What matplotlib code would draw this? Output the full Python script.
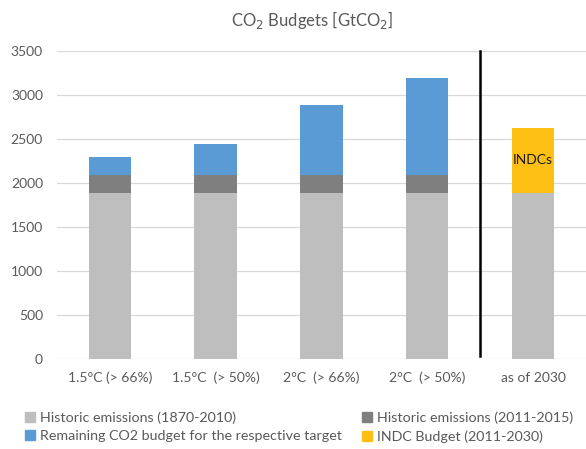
import matplotlib.pyplot as plt
import numpy as np
from matplotlib.patches import Patch

categories = ['1.5°C (> 66%)', '1.5°C  (> 50%)', '2°C  (> 66%)',
              '2°C  (> 50%)', 'as of 2030']
hist_1870_2010 = [1890, 1890, 1890, 1890, 1890]
hist_2011_2015 = [200, 200, 200, 200, 0]
remaining = [200, 350, 800, 1100, 0]
indc = [0, 0, 0, 0, 740]

c_light = '#bfbebe'
c_dark = '#7f7f7f'
c_blue = '#5b9bd5'
c_yellow = '#fdbf14'
txt = '#595959'

plt.rcParams['font.family'] = ['Lato', 'DejaVu Sans']

fig = plt.figure(figsize=(5.86, 4.49), dpi=100)
ax = fig.add_axes([0.097, 0.2004, 0.903, 0.686])

x = np.arange(len(categories))
w = 0.4
b1 = np.array(hist_1870_2010)
b2 = b1 + np.array(hist_2011_2015)
b3 = b2 + np.array(remaining)
ax.bar(x, hist_1870_2010, w, color=c_light, zorder=2)
ax.bar(x, hist_2011_2015, w, bottom=b1, color=c_dark, zorder=2)
ax.bar(x, remaining, w, bottom=b2, color=c_blue, zorder=2)
ax.bar(x, indc, w, bottom=b3, color=c_yellow, zorder=2)

# label inside the INDC bar
ax.text(4, b3[4] + indc[4] / 2, 'INDCs', ha='center', va='center',
        fontsize=10, color='#1a1a1a', zorder=3)

# separator line
ax.plot([3.5, 3.5], [40, 3500], color='black', lw=1.8, zorder=3, clip_on=False)

ax.set_xlim(-0.5, 4.5)
ax.set_ylim(0, 3500)
ax.set_yticks(np.arange(0, 3501, 500))
ax.set_xticks(x)
ax.set_xticklabels(categories)
ax.grid(axis='y', color='#d9d9d9', lw=0.9, zorder=0)
ax.set_axisbelow(True)
for s in ax.spines.values():
    s.set_visible(False)
ax.tick_params(length=0, colors=txt, labelsize=10)
ax.tick_params(axis='y', pad=10)
ax.tick_params(axis='x', pad=9)

fig.text(0.533, 0.955, 'CO$_2$ Budgets [GtCO$_2$]', ha='center', va='center',
         fontsize=12, color=txt)

handles = [Patch(color=c_light), Patch(color=c_blue),
           Patch(color=c_dark), Patch(color=c_yellow)]
labels = ['Historic emissions (1870-2010)',
          'Remaining CO2 budget for the respective target',
          'Historic emissions (2011-2015)', 'INDC Budget (2011-2030)']
fig.legend(handles, labels, ncol=2, loc='center left',
           bbox_to_anchor=(0.042, 0.048), frameon=False, fontsize=10.3,
           labelcolor=txt, handlelength=0.7, handleheight=0.7,
           handletextpad=0.35, columnspacing=1.4, labelspacing=0.42,
           borderaxespad=0, borderpad=0)

fig.savefig('out.png', dpi=100)
